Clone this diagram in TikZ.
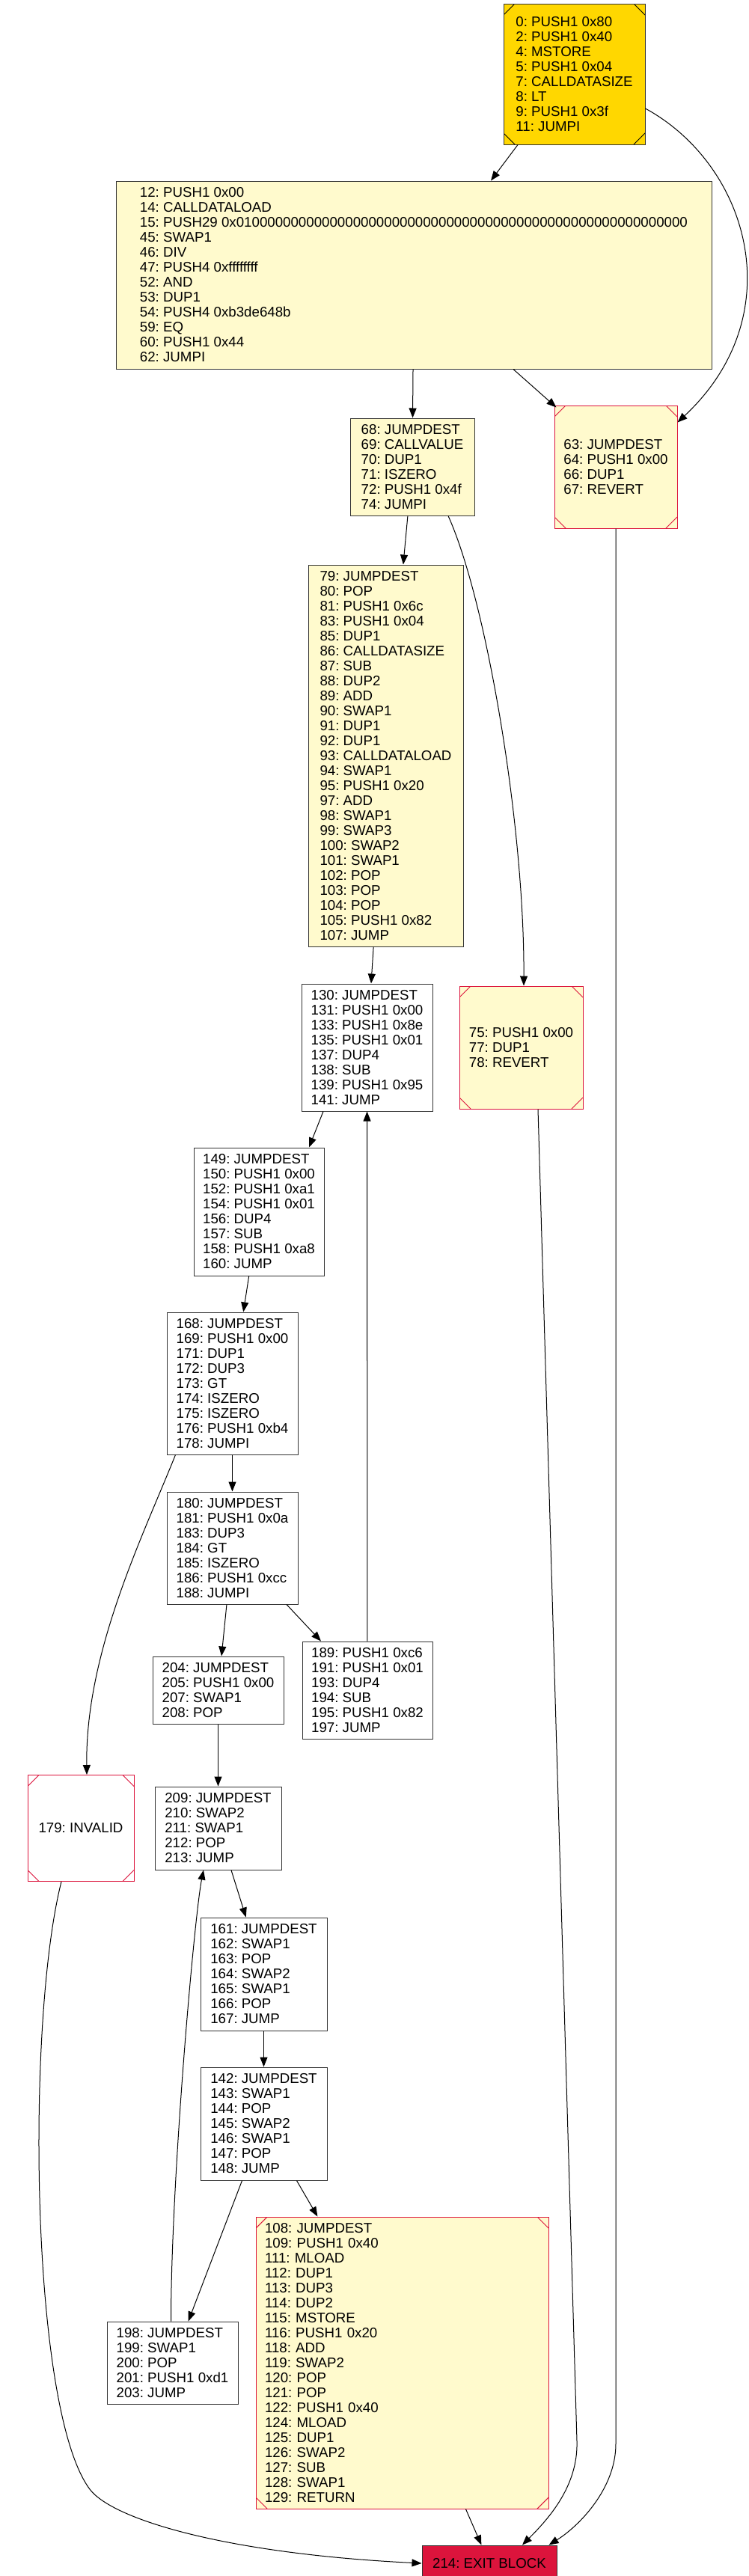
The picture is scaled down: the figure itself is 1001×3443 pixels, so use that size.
\documentclass[tikz,border=0pt]{standalone}
\usepackage{fontspec}
\setmainfont{Liberation Sans}
\usepackage{xcolor}
\usepackage{tikz}
\usetikzlibrary{arrows.meta,positioning}
\definecolor{chiffon}{RGB}{255,250,205}
\definecolor{goldfill}{RGB}{255,215,0}
\definecolor{crim}{RGB}{220,20,60}
\newcommand{\blockfont}{\fontsize{18.7}{20}\selectfont\frenchspacing}

\begin{document}
\begin{tikzpicture}[x=1pt,y=1pt,
  blk/.style={draw=black!80,fill=white,line width=1pt,inner xsep=11pt,inner ysep=0pt,align=left,font=\blockfont},
  msq/.style={path picture={
    \foreach \c/\dx/\dy in {north west/1/-1,north east/-1/-1,south west/1/1,south east/-1/1}
      \draw[#1,line width=1pt] ([yshift=\dy*15pt]path picture bounding box.\c) -- ([xshift=\dx*15pt]path picture bounding box.\c);}},
  flow/.style={-{Triangle[length=13pt,width=10pt]},line width=1pt}]
\useasboundingbox (0,0) rectangle (1001,-3443);
\node[blk,msq=black,fill=goldfill,minimum width=189pt,minimum height=188pt] (b0) at (767.5,-99) {0: PUSH1 0x80\\2: PUSH1 0x40\\4: MSTORE\\5: PUSH1 0x04\\7: CALLDATASIZE\\8: LT\\9: PUSH1 0x3f\\11: JUMPI};
\node[blk,fill=chiffon,minimum width=796pt,minimum height=251pt,below=48pt of b0,xshift=-214.5pt] (b12) {12: PUSH1 0x00\\14: CALLDATALOAD\\15: PUSH29 0x01%
00000000%
00000000%
00000000%
00000000%
00000000%
00000000%
00000000\\45: SWAP1\\46: DIV\\47: PUSH4 0xffffffff\\52: AND\\53: DUP1\\54: PUSH4 0xb3de648b\\59: EQ\\60: PUSH1 0x44\\62: JUMPI};
\node[blk,fill=chiffon,minimum width=166pt,minimum height=130pt,below=65pt of b12,xshift=-2pt] (b68) {68: JUMPDEST\\69: CALLVALUE\\70: DUP1\\71: ISZERO\\72: PUSH1 0x4f\\74: JUMPI};
\node[blk,msq=crim,draw=crim,fill=chiffon,minimum width=164pt,minimum height=164pt,right=106pt of b68] (b63) {63: JUMPDEST\\64: PUSH1 0x00\\66: DUP1\\67: REVERT};
\node[blk,fill=chiffon,minimum width=207pt,minimum height=510pt,below=65pt of b68,xshift=-35.5pt] (b79) {79: JUMPDEST\\80: POP\\81: PUSH1 0x6c\\83: PUSH1 0x04\\85: DUP1\\86: CALLDATASIZE\\87: SUB\\88: DUP2\\89: ADD\\90: SWAP1\\91: DUP1\\92: DUP1\\93: CALLDATALOAD\\94: SWAP1\\95: PUSH1 0x20\\97: ADD\\98: SWAP1\\99: SWAP3\\100: SWAP2\\101: SWAP1\\102: POP\\103: POP\\104: POP\\105: PUSH1 0x82\\107: JUMP};
\node[blk,minimum width=175pt,minimum height=170pt,below=49pt of b79,xshift=-25pt] (b130) {130: JUMPDEST\\131: PUSH1 0x00\\133: PUSH1 0x8e\\135: PUSH1 0x01\\137: DUP4\\138: SUB\\139: PUSH1 0x95\\141: JUMP};
\node[blk,msq=crim,draw=crim,fill=chiffon,minimum width=165pt,minimum height=164pt,right=35pt of b130] (b75) {75: PUSH1 0x00\\77: DUP1\\78: REVERT};
\node[blk,minimum width=174pt,minimum height=171pt,below=48pt of b130,xshift=-144.5pt] (b149) {149: JUMPDEST\\150: PUSH1 0x00\\152: PUSH1 0xa1\\154: PUSH1 0x01\\156: DUP4\\157: SUB\\158: PUSH1 0xa8\\160: JUMP};
\node[blk,minimum width=175pt,minimum height=190pt,below=48pt of b149,xshift=-35.5pt] (b168) {168: JUMPDEST\\169: PUSH1 0x00\\171: DUP1\\172: DUP3\\173: GT\\174: ISZERO\\175: ISZERO\\176: PUSH1 0xb4\\178: JUMPI};
\node[blk,minimum width=175pt,minimum height=150pt,below=49pt of b168] (b180) {180: JUMPDEST\\181: PUSH1 0x0a\\183: DUP3\\184: GT\\185: ISZERO\\186: PUSH1 0xcc\\188: JUMPI};
\node[blk,minimum width=175pt,minimum height=90pt,below=69pt of b180,xshift=-19pt] (b204) {204: JUMPDEST\\205: PUSH1 0x00\\207: SWAP1\\208: POP};
\node[blk,minimum width=174pt,minimum height=130pt,right=24pt of b204] (b189) {189: PUSH1 0xc6\\191: PUSH1 0x01\\193: DUP4\\194: SUB\\195: PUSH1 0x82\\197: JUMP};
\node[blk,minimum width=169pt,minimum height=111pt,below=83pt of b204] (b209) {209: JUMPDEST\\210: SWAP2\\211: SWAP1\\212: POP\\213: JUMP};
\node[blk,msq=crim,draw=crim,minimum width=142pt,minimum height=142pt,left=27pt of b209] (b179) {179: INVALID};
\node[blk,minimum width=169pt,minimum height=151pt,below=63pt of b209,xshift=61pt] (b161) {161: JUMPDEST\\162: SWAP1\\163: POP\\164: SWAP2\\165: SWAP1\\166: POP\\167: JUMP};
\node[blk,minimum width=169pt,minimum height=151pt,below=48pt of b161] (b142) {142: JUMPDEST\\143: SWAP1\\144: POP\\145: SWAP2\\146: SWAP1\\147: POP\\148: JUMP};
\node[blk,msq=crim,draw=crim,fill=chiffon,inner xsep=12pt,text width=367pt,minimum height=390pt,below=48pt of b142,xshift=185pt] (b108) {108: JUMPDEST\\109: PUSH1 0x40\\111: MLOAD\\112: DUP1\\113: DUP3\\114: DUP2\\115: MSTORE\\116: PUSH1 0x20\\118: ADD\\119: SWAP2\\120: POP\\121: POP\\122: PUSH1 0x40\\124: MLOAD\\125: DUP1\\126: SWAP2\\127: SUB\\128: SWAP1\\129: RETURN};
\node[blk,minimum width=175pt,minimum height=110pt,left=23pt of b108] (b198) {198: JUMPDEST\\199: SWAP1\\200: POP\\201: PUSH1 0xd1\\203: JUMP};
\node[blk,fill=crim,align=center,minimum width=180pt,minimum height=48pt,below=48pt of b108,xshift=116.5pt] (bexit) {214: EXIT BLOCK};
\draw[flow] ([xshift=-75.5pt]b0.south) -- ([xshift=103pt]b12.north);
\draw[flow] ([yshift=-46pt]b0.east) .. controls (1000,-220) and (1060,-420) .. ([yshift=-23pt]b63.north east);
\draw[flow] (b12) -- (b68);
\draw[flow] ([xshift=133pt]b12.south) -- ([xshift=3pt,yshift=-3pt]b63.north west);
\draw[flow] (b68) -- (b79);
\draw[flow] ([xshift=48pt]b68.south) .. controls +(51,-113) and +(1,214) .. ([xshift=3.5pt]b75.north);
\draw[flow] (b63.south) -- ++(0,-2560) .. controls +(0,-60) and +(40,25) .. ([xshift=-11pt]bexit.north east);
\draw[flow] (b79) -- (b130);
\draw[flow] ([xshift=22.5pt]b75.south) -- ++(52,-1780) .. controls +(2,-60) and +(35,35) .. ([xshift=44pt]bexit.north);
\draw[flow] ([xshift=-58.5pt]b130.south) -- ([xshift=67pt]b149.north);
\draw[flow] (b189) -- (b130);
\draw[flow] (b149) -- (b168);
\draw[flow] (b168) -- (b180);
\draw[flow] ([xshift=12pt]b168.south west) .. controls +(-45,-112) and +(-2,163) .. ([xshift=8pt]b179.north);
\draw[flow] (b180) -- (b204);
\draw[flow] ([xshift=72.5pt]b180.south) -- ([xshift=-62pt]b189.north);
\draw[flow] (b204) -- (b209);
\draw[flow] ([xshift=-26pt]b179.south) .. controls (35,-2700) and (40,-3220) .. (120,-3327) .. controls (150,-3367) and (300,-3413) .. (bexit.west);
\draw[flow] (b209) -- (b161);
\draw[flow] ([xshift=-2pt]b198.north) .. controls +(0,190) and +(-12,-60) .. ([xshift=-19.5pt]b209.south);
\draw[flow] (b161) -- (b142);
\draw[flow] (b142) -- (b198);
\draw[flow] (b142) -- (b108);
\draw[flow] (b108) -- (bexit);
\end{tikzpicture}
\end{document}
